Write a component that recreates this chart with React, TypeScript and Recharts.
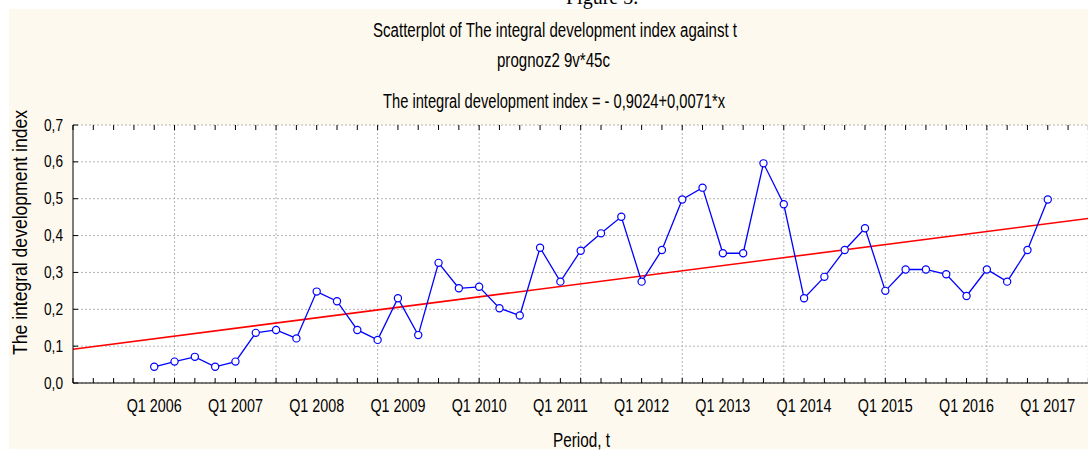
import { CartesianGrid, ComposedChart, Line, ReferenceLine, XAxis, YAxis } from "recharts";

// quarterly values, Q1 2006 .. Q1 2017
const indexValues = [
  0.044, 0.058, 0.071, 0.044, 0.058, 0.136, 0.144, 0.121, 0.248, 0.222,
  0.144, 0.117, 0.23, 0.13, 0.326, 0.257, 0.261, 0.203, 0.183, 0.367,
  0.275, 0.359, 0.406, 0.451, 0.275, 0.361, 0.498, 0.53, 0.352, 0.352,
  0.596, 0.485, 0.23, 0.288, 0.361, 0.42, 0.25, 0.308, 0.308, 0.295,
  0.236, 0.308, 0.275, 0.361, 0.498,
];
const firstPeriod = 144; // t of Q1 2006

const yearLabels = [
  "Q1 2006", "Q1 2007", "Q1 2008", "Q1 2009", "Q1 2010", "Q1 2011",
  "Q1 2012", "Q1 2013", "Q1 2014", "Q1 2015", "Q1 2016", "Q1 2017",
];
const yearPositions = [144, 148, 152, 156, 160, 164, 168, 172, 176, 180, 184, 188];
const gridPositions = [145, 150, 155, 160, 165, 170, 175, 180, 185, 190];
const yTicks = [0, 0.1, 0.2, 0.3, 0.4, 0.5, 0.6, 0.7];

const intercept = -0.9024;
const slope = 0.0071;
const xDomain: [number, number] = [140, 192];

const PLOT_TOP = 125;
const PLOT_BOTTOM = 383;
const PLOT_LEFT = 73;
const FONT = "'Liberation Sans', Arial, sans-serif";

const seriesData = indexValues.map((v, i) => ({ x: firstPeriod + i, value: v }));
const trendData = xDomain.map((x) => ({ x, trend: intercept + slope * x }));

const minorTicks: number[] = [];
for (let t = xDomain[0]; t <= xDomain[1]; t++) minorTicks.push(t);

function QuarterTick(props: any) {
  const { x, payload } = props;
  const idx = yearPositions.indexOf(payload.value);
  return (
    <g>
      <line x1={x} x2={x} y1={PLOT_BOTTOM} y2={PLOT_BOTTOM - 5} stroke="#000" />
      <line x1={x} x2={x} y1={PLOT_TOP} y2={PLOT_TOP + 5} stroke="#000" />
      {idx >= 0 && (
        <text
          x={x}
          y={PLOT_BOTTOM + 29}
          textAnchor="middle"
          fontFamily={FONT}
          fontSize={18}
          textLength={55}
          lengthAdjust="spacingAndGlyphs"
          fill="#000"
        >
          {yearLabels[idx]}
        </text>
      )}
    </g>
  );
}

function ValueTick(props: any) {
  const { y, payload } = props;
  return (
    <g>
      <line x1={PLOT_LEFT} x2={PLOT_LEFT + 5} y1={y} y2={y} stroke="#000" />
      <text
        x={PLOT_LEFT - 10}
        y={y + 5.5}
        textAnchor="end"
        fontFamily={FONT}
        fontSize={16}
        textLength={19}
        lengthAdjust="spacingAndGlyphs"
        fill="#000"
      >
        {payload.value.toFixed(1).replace(".", ",")}
      </text>
    </g>
  );
}

export default function App() {
  return (
    <div
      style={{
        position: "fixed",
        left: 0,
        top: 0,
        width: 1088,
        height: 451,
        overflow: "hidden",
        background: "#fff",
      }}
    >
      <div
        style={{
          position: "absolute",
          left: 566,
          top: -13,
          fontFamily: "'Liberation Serif', serif",
          fontSize: 20,
          lineHeight: "20px",
          color: "#000",
        }}
      >
        Figure 3.
      </div>
      <div
        style={{
          position: "absolute",
          left: 9,
          top: 9,
          width: 1079,
          height: 440,
          background: "#fef9ee",
        }}
      />
      <div style={{ position: "absolute", left: 0, top: 0 }}>
        <ComposedChart
          width={1140}
          height={451}
          data={seriesData}
          margin={{ top: PLOT_TOP, right: 11, bottom: 38, left: 0 }}
        >
          <CartesianGrid
            vertical={false}
            fill="#fff"
            stroke="#b4b4b4"
            strokeDasharray="2 2"
          />
          {gridPositions.map((g) => (
            <ReferenceLine
              key={g}
              x={g}
              stroke="#b4b4b4"
              strokeDasharray="2 2"
            />
          ))}
          <XAxis
            dataKey="x"
            type="number"
            domain={xDomain}
            ticks={minorTicks}
            interval={0}
            height={30}
            tickLine={false}
            axisLine={{ stroke: "#000" }}
            tick={<QuarterTick />}
          />
          <XAxis
            xAxisId="top"
            orientation="top"
            type="number"
            domain={xDomain}
            height={0}
            tick={false}
            tickLine={false}
            axisLine={{ stroke: "#000" }}
          />
          <YAxis
            type="number"
            domain={[0, 0.7]}
            ticks={yTicks}
            width={PLOT_LEFT}
            tickLine={false}
            axisLine={{ stroke: "#000" }}
            tick={<ValueTick />}
          />
          <Line
            data={trendData}
            dataKey="trend"
            stroke="#ff0000"
            strokeWidth={1.6}
            dot={false}
            isAnimationActive={false}
          />
          <Line
            dataKey="value"
            stroke="#0000ff"
            strokeWidth={1.3}
            dot={{ r: 3.6, stroke: "#0000ff", strokeWidth: 1.2, fill: "#fff" }}
            isAnimationActive={false}
          />
        </ComposedChart>
      </div>
      <svg
        width={1088}
        height={451}
        style={{ position: "absolute", left: 0, top: 0, pointerEvents: "none" }}
      >
        <g fontFamily={FONT} fontSize={20} fill="#000">
          <text x={555} y={36.5} textAnchor="middle" textLength={364} lengthAdjust="spacingAndGlyphs">
            Scatterplot of The integral development index against t
          </text>
          <text x={553.5} y={66.5} textAnchor="middle" textLength={113} lengthAdjust="spacingAndGlyphs">
            prognoz2 9v*45c
          </text>
          <text x={554} y={107.5} textAnchor="middle" textLength={342} lengthAdjust="spacingAndGlyphs">
            The integral development index = - 0,9024+0,0071*x
          </text>
          <text x={581.5} y={446.5} textAnchor="middle" textLength={57} lengthAdjust="spacingAndGlyphs">
            Period, t
          </text>
          <text
            transform="translate(27,232.5) rotate(-90)"
            textAnchor="middle"
            textLength={245}
            lengthAdjust="spacingAndGlyphs"
          >
            The integral development index
          </text>
        </g>
      </svg>
    </div>
  );
}
